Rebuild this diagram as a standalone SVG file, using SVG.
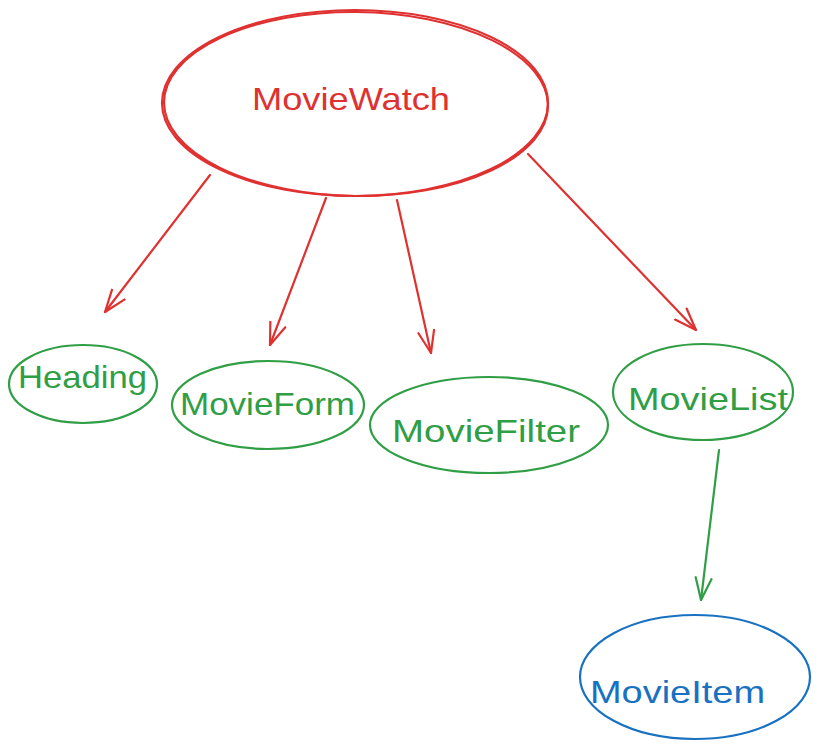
<svg xmlns="http://www.w3.org/2000/svg" width="825" height="750" viewBox="0 0 825 750">
<defs>
<style>
.n{fill:none;stroke-width:2.2;stroke-linecap:round}
.t{font-family:"Liberation Sans","DejaVu Sans",sans-serif;font-size:32px;text-anchor:start}
.red{stroke:#e03131}.green{stroke:#2f9e44}.blue{stroke:#1971c2}
.tr{fill:#e03131}.tg{fill:#2f9e44}.tb{fill:#1971c2}
.c{fill:none;stroke-width:2.2;stroke-linecap:round}
</style>
<marker id="ar" viewBox="0 0 24 20" refX="23" refY="10" markerWidth="24" markerHeight="20" markerUnits="userSpaceOnUse" orient="auto">
<path d="M1,2 L23,10 L1,18" fill="none" stroke="#e03131" stroke-width="2.2" stroke-linecap="round" stroke-linejoin="round"/>
</marker>
<marker id="ag" viewBox="0 0 24 20" refX="23" refY="10" markerWidth="24" markerHeight="20" markerUnits="userSpaceOnUse" orient="auto">
<path d="M1,2 L23,10 L1,18" fill="none" stroke="#2f9e44" stroke-width="2.2" stroke-linecap="round" stroke-linejoin="round"/>
</marker>
</defs>
<rect width="825" height="750" fill="#ffffff"/>
<g id="connectors">
<path class="c red" d="M210,175 L105,312" marker-end="url(#ar)"/>
<path class="c red" d="M326,198 L270,345" marker-end="url(#ar)"/>
<path class="c red" d="M397,200 L431,353" marker-end="url(#ar)"/>
<path class="c red" d="M528,154 L696,330" marker-end="url(#ar)"/>
<path class="c green" d="M719,450 L701,600" marker-end="url(#ag)"/>
</g>
<g id="MovieWatch">
<ellipse class="n red" cx="355" cy="103" rx="193" ry="93"/>
<ellipse class="n red" cx="356" cy="104" rx="192" ry="92" transform="rotate(0.6 356 104)" stroke-width="1"/>
<text class="t tr" x="252" y="110" textLength="198" lengthAdjust="spacingAndGlyphs">MovieWatch</text>
</g>
<g id="Heading">
<ellipse class="n green" cx="83" cy="384" rx="74" ry="39"/>
<text class="t tg" x="18" y="388" textLength="129" lengthAdjust="spacingAndGlyphs">Heading</text>
</g>
<g id="MovieForm">
<ellipse class="n green" cx="268" cy="405" rx="96" ry="44"/>
<text class="t tg" x="180" y="415" textLength="175" lengthAdjust="spacingAndGlyphs">MovieForm</text>
</g>
<g id="MovieFilter">
<ellipse class="n green" cx="489" cy="425" rx="119" ry="48"/>
<text class="t tg" x="392" y="442" textLength="188" lengthAdjust="spacingAndGlyphs">MovieFilter</text>
</g>
<g id="MovieList">
<ellipse class="n green" cx="703" cy="392" rx="90" ry="48"/>
<text class="t tg" x="628" y="410" textLength="160" lengthAdjust="spacingAndGlyphs">MovieList</text>
</g>
<g id="MovieItem">
<ellipse class="n blue" cx="695" cy="677" rx="115" ry="62"/>
<text class="t tb" x="590" y="703" textLength="175" lengthAdjust="spacingAndGlyphs">MovieItem</text>
</g>
</svg>
